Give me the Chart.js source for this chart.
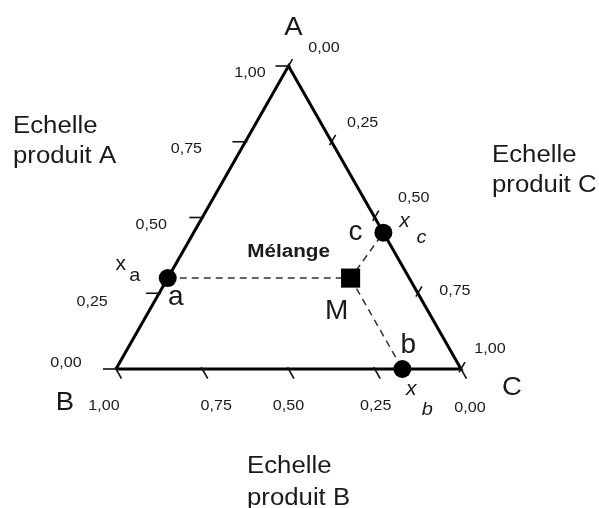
<!DOCTYPE html>
<html>
<head>
<meta charset="utf-8">
<script src="https://cdn.jsdelivr.net/npm/chart.js@4/dist/chart.umd.min.js"></script>
<style>
  body { margin: 0; background: #fff; }
  #wrap { width: 599px; height: 508px; position: relative; }
</style>
</head>
<body>
<div id="wrap"><canvas id="myChart"></canvas></div>
<script>
// compositions in fractions of A, B and C
const tickValues = [0, 0.25, 0.5, 0.75, 1];
const tickLabels = ["0,00", "0,25", "0,50", "0,75", "1,00"];
const pointNames = ["a", "b", "c"];
const pointA = [0.30, 0.00, 0.45];
const pointB = [0.70, 0.17, 0.00];
const pointC = [0.00, 0.83, 0.55];
const mixName = "M";
const mixA = [0.30];
const mixB = [0.17];
const mixC = [0.53];

const H = Math.sqrt(3) / 2;
const toXY = (a, b, c) => ({ x: c + a / 2, y: a * H });

const pts = pointNames.map((n, i) => toXY(pointA[i], pointB[i], pointC[i]));
const mix = toXY(mixA[0], mixB[0], mixC[0]);
const vA = toXY(1, 0, 0), vB = toXY(0, 1, 0), vC = toXY(0, 0, 1);

// label offsets in px (same order as tickValues)
const offA = [[-50, -2], [-67, 13], [-51, 11.5], [-59, 11], [-38.5, 11]];
const offB = [[9, 43], [1, 41], [0, 41], [14, 41], [-12, 41]];
const offC = [[35.5, -14], [31, -15], [39, -15.5], [37, 2], [29, -16]];
const offPt = { a: [8, 27], b: [6, -16], c: [-28, 7] };
const offX = { a: [[-47, -8], [-33, 3]], b: [[9, 26], [25, 46]], c: [[21, -6], [38, 10]] };

function txt(ctx, s, x, y, font, sx, align) {
    ctx.save();
    ctx.font = font;
    ctx.textAlign = align || 'center';
    ctx.textBaseline = 'alphabetic';
    ctx.translate(x, y);
    ctx.scale(sx, 1);
    ctx.fillText(s, 0, 0);
    ctx.restore();
}

const ternaryDeco = {
    id: 'ternaryDeco',
    afterDatasetsDraw(chart) {
        const ctx = chart.ctx;
        const xs = chart.scales.x, ys = chart.scales.y;
        const px = p => ({ x: xs.getPixelForValue(p.x), y: ys.getPixelForValue(p.y) });
        const F = '"Liberation Sans", Arial, sans-serif';
        ctx.save();
        ctx.strokeStyle = '#111';
        ctx.fillStyle = '#1a1a1a';
        ctx.lineWidth = 1.6;

        const seg = (p, d, t0, t1) => {
            ctx.beginPath();
            ctx.moveTo(p.x + d[0] * t0, p.y + d[1] * t0);
            ctx.lineTo(p.x + d[0] * t1, p.y + d[1] * t1);
            ctx.stroke();
        };

        tickValues.forEach((v, i) => {
            // produit A (left side)
            let p = px(toXY(v, 1 - v, 0));
            seg(p, [1, 0], -13, 2);
            txt(ctx, tickLabels[i], p.x + offA[i][0], p.y + offA[i][1], '14px ' + F, 1.15);
            // produit B (bottom)
            p = px(toXY(0, v, 1 - v));
            seg(p, [0.5, 0.866], -2, 11);
            txt(ctx, tickLabels[i], p.x + offB[i][0], p.y + offB[i][1], '14px ' + F, 1.15);
            // produit C (right side)
            p = px(toXY(1 - v, 0, v));
            seg(p, [0.5, -0.866], -4, 8);
            txt(ctx, tickLabels[i], p.x + offC[i][0], p.y + offC[i][1], '14px ' + F, 1.15);
        });

        // vertex names
        let p = px(vA);
        txt(ctx, 'A', p.x + 5, p.y - 31, '25px ' + F, 1.1);
        p = px(vB);
        txt(ctx, 'B', p.x - 51, p.y + 41, '25px ' + F, 1.1);
        p = px(vC);
        txt(ctx, 'C', p.x + 51, p.y + 26, '25px ' + F, 1.1);

        // point names and x subscripts
        pointNames.forEach((n, i) => {
            const q = px(pts[i]);
            txt(ctx, n, q.x + offPt[n][0], q.y + offPt[n][1], '28px ' + F, 1.0);
            const o = offX[n];
            const it = n === 'a' ? '' : 'italic ';
            txt(ctx, 'x', q.x + o[0][0], q.y + o[0][1], it + '20px ' + F, 1.05);
            txt(ctx, n, q.x + o[1][0], q.y + o[1][1], it + '19px ' + F, 1.05);
        });
        const m = px(mix);
        txt(ctx, mixName, m.x - 14, m.y + 41, '28px ' + F, 1.0);
        txt(ctx, 'Mélange', m.x - 62, m.y - 21, 'bold 18px ' + F, 1.15);

        // scale titles
        txt(ctx, 'Echelle', 13, 133, '23px ' + F, 1.12, 'left');
        txt(ctx, 'produit A', 13, 163, '23px ' + F, 1.12, 'left');
        txt(ctx, 'Echelle', 492, 162, '23px ' + F, 1.12, 'left');
        txt(ctx, 'produit C', 492, 192, '23px ' + F, 1.12, 'left');
        txt(ctx, 'Echelle', 247, 473, '23px ' + F, 1.12, 'left');
        txt(ctx, 'produit B', 247, 505, '23px ' + F, 1.12, 'left');
        ctx.restore();
    }
};

// pixel frame: B at (116,369), C at (461,369), A at (288.5,66)
const kx = 345, ky = 303 / H;

new Chart(document.getElementById("myChart"), {
    type: 'scatter',
    data: {
        datasets: [
            {
                label: 'triangle',
                data: [vB, vC, vA, vB],
                showLine: true,
                borderColor: '#000',
                borderWidth: 3,
                pointRadius: 0,
                order: 3
            },
            {
                label: 'a-M-c',
                data: [pts[0], mix, pts[2]],
                showLine: true,
                borderColor: '#333',
                borderWidth: 1.5,
                borderDash: [7, 5],
                pointRadius: 0,
                order: 2
            },
            {
                label: 'M-b',
                data: [mix, pts[1]],
                showLine: true,
                borderColor: '#333',
                borderWidth: 1.5,
                borderDash: [7, 5],
                pointRadius: 0,
                order: 2
            },
            {
                label: 'points',
                data: pts,
                backgroundColor: '#000',
                borderWidth: 0,
                pointRadius: 9,
                order: 1
            },
            {
                label: 'M',
                data: [mix],
                backgroundColor: '#000',
                borderWidth: 0,
                pointStyle: 'rect',
                pointRadius: 13.5,
                order: 0
            }
        ]
    },
    options: {
        responsive: true,
        maintainAspectRatio: false,
        animation: false,
        events: [],
        layout: { padding: 0, autoPadding: false },
        scales: {
            x: { type: 'linear', display: false, min: -116 / kx, max: (599 - 116) / kx },
            y: { type: 'linear', display: false, min: -(508 - 369) / ky, max: 369 / ky }
        },
        plugins: {
            legend: { display: false },
            tooltip: { enabled: false }
        }
    },
    plugins: [ternaryDeco]
});
</script>
</body>
</html>
